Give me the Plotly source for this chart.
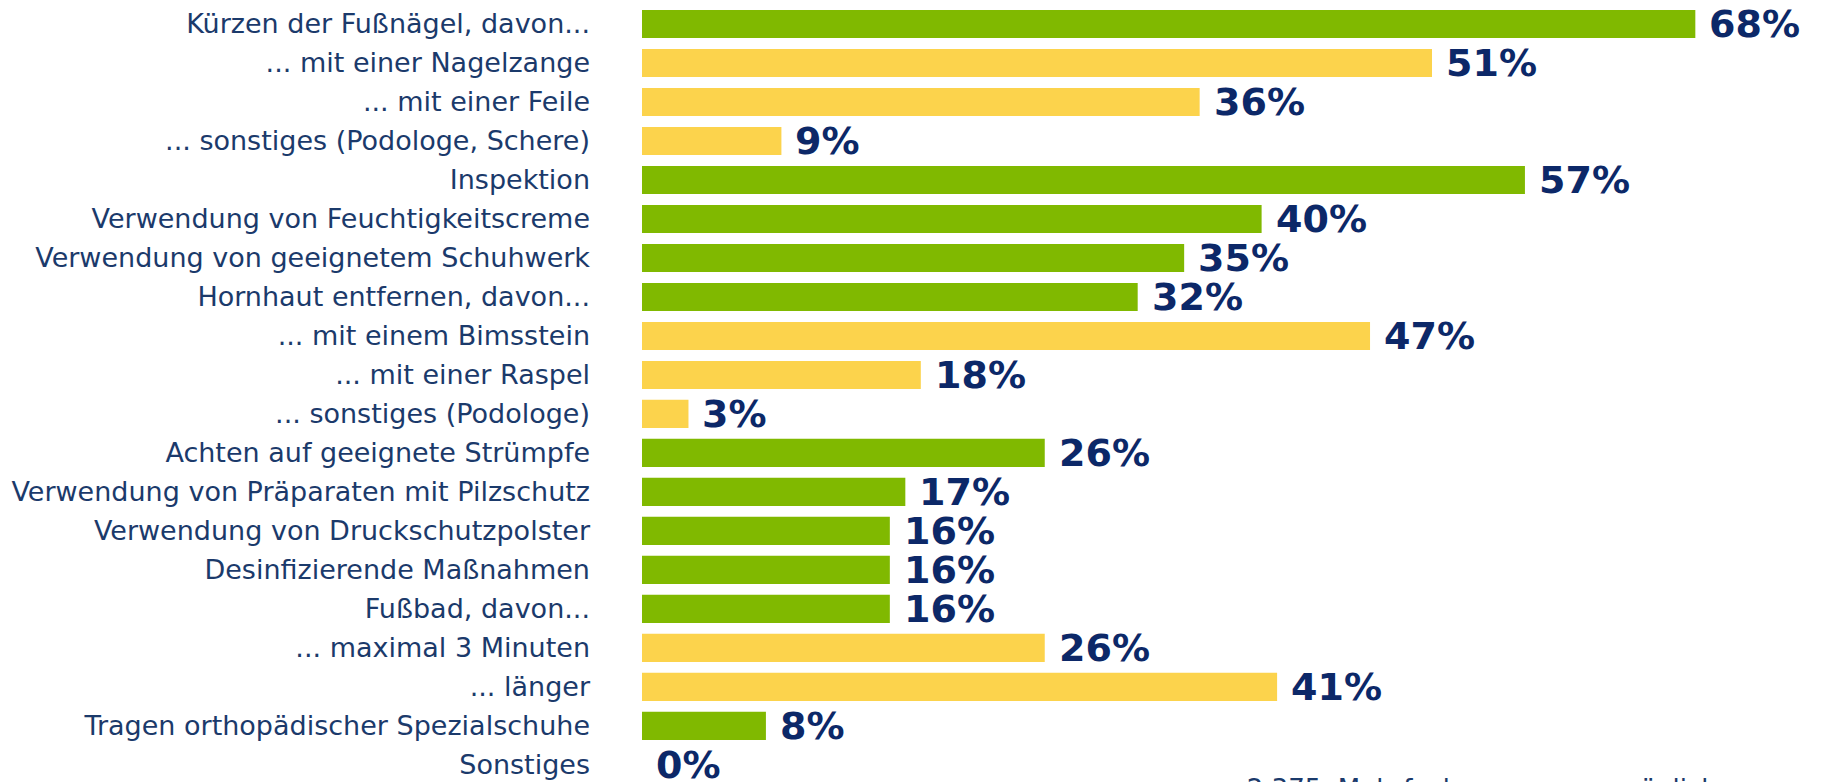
import plotly.graph_objects as go

# Fußpflege-Maßnahmen (Anteil in %), Hauptpunkte grün, Unterpunkte gelb
labels = [
    "Kürzen der Fußnägel, davon...",
    "... mit einer Nagelzange",
    "... mit einer Feile",
    "... sonstiges (Podologe, Schere)",
    "Inspektion",
    "Verwendung von Feuchtigkeitscreme",
    "Verwendung von geeignetem Schuhwerk",
    "Hornhaut entfernen, davon...",
    "... mit einem Bimsstein",
    "... mit einer Raspel",
    "... sonstiges (Podologe)",
    "Achten auf geeignete Strümpfe",
    "Verwendung von Präparaten mit Pilzschutz",
    "Verwendung von Druckschutzpolster",
    "Desinfizierende Maßnahmen",
    "Fußbad, davon...",
    "... maximal 3 Minuten",
    "... länger",
    "Tragen orthopädischer Spezialschuhe",
    "Sonstiges",
]
values = [68, 51, 36, 9, 57, 40, 35, 32, 47, 18, 3, 26, 17, 16, 16, 16, 26, 41, 8, 0]
is_sub = [False, True, True, True, False, False, False, False, True, True, True,
          False, False, False, False, False, True, True, False, False]
note = "n = 2.375, Mehrfachnennungen möglich"

GREEN = "#80b900"
YELLOW = "#fcd34c"
LABEL_COLOR = "#1b3a6b"
VALUE_COLOR = "#0c2868"

positions = list(range(len(labels)))
colors = [YELLOW if s else GREEN for s in is_sub]

fig = go.Figure()

fig.add_trace(go.Bar(
    x=values,
    y=positions,
    orientation="h",
    width=0.72,
    marker=dict(color=colors, line=dict(width=0)),
    hoverinfo="skip",
))

# value labels right of each bar
for pos, val in zip(positions, values):
    fig.add_annotation(
        x=val, y=pos, xref="x", yref="y",
        text=f"{val}%",
        showarrow=False,
        xanchor="left", yanchor="middle",
        xshift=12,
        font=dict(family="DejaVu Sans", size=38, color=VALUE_COLOR, weight="bold"),
    )

# footnote, mostly cut off by the bottom edge like in the original
fig.add_annotation(
    x=1.0, y=0, xref="paper", yref="paper",
    text=note, showarrow=False,
    xanchor="right", yanchor="top",
    xshift=-107, yshift=10,
    font=dict(family="DejaVu Sans", size=26, color=LABEL_COLOR),
)

fig.update_layout(
    width=1819,
    height=774,
    margin=dict(l=634, r=0, t=0, b=0),
    plot_bgcolor="white",
    paper_bgcolor="white",
    showlegend=False,
    font=dict(family="DejaVu Sans", color=LABEL_COLOR),
    xaxis=dict(
        range=[0, 76.5],
        visible=False,
        showgrid=False,
        zeroline=False,
        fixedrange=True,
    ),
    yaxis=dict(
        range=[19.44, -0.41],
        tickvals=positions,
        ticktext=labels,
        ticks="",
        showgrid=False,
        zeroline=False,
        showline=False,
        ticklabelstandoff=51,
        tickfont=dict(family="DejaVu Sans", size=27, color=LABEL_COLOR),
        fixedrange=True,
    ),
)

fig.write_html("out.html")
